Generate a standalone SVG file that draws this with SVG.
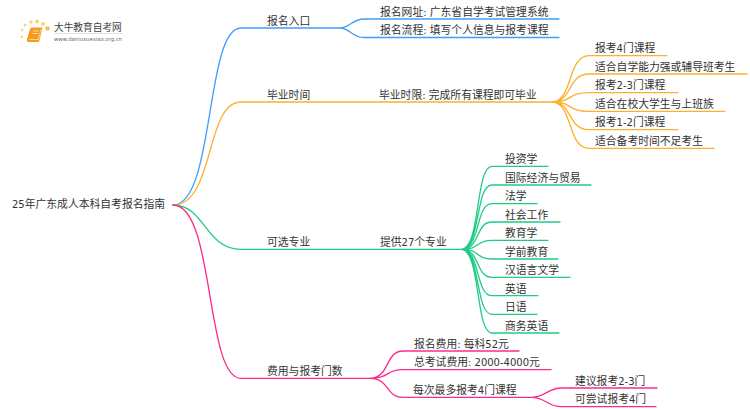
<svg xmlns="http://www.w3.org/2000/svg" width="750" height="410" viewBox="0 0 750 410">
<style>
text{font-family:"DejaVu Sans","Noto Sans CJK SC",sans-serif;font-size:10.8px;fill:#333}
tspan{font-size:10px}
.c{fill:none;stroke-width:1.3;stroke-linecap:round}
.b{stroke:#3f9dfc}.o{stroke:#fbb12e}.g{stroke:#1fcb86}.p{stroke:#fb2b8b}
</style>
<rect width="750" height="410" fill="#fff"/>
<g id="logo">
<g fill="#fbd27a"><circle cx="22" cy="37" r="1.2"/><circle cx="22" cy="30" r="1.3"/><circle cx="25" cy="25" r="1.5"/><circle cx="31" cy="22" r="1.7"/><circle cx="37" cy="21.500" r="2"/><circle cx="43" cy="24" r="2"/><circle cx="47.500" cy="28.500" r="2.300" fill="#fbc04f"/></g>
<path d="M30 29Q30.500 27.500 32 27.500H42.500L39.500 40.500Q39 42 37.500 42H28.500Q26.500 42 27 39.500Z" fill="#f59a1f"/>
<path d="M29 39.500H38.500L41 29" fill="none" stroke="#fde2ae" stroke-width=".8"/>
<path d="M33 31H38.500M32.500 33.500H38" stroke="#fde2ae" stroke-width=".9"/>
<text x="54" y="31" style="font-size:9.700px;fill:#444">大牛教育自考网</text>
<path d="M54 33.500H122" stroke="#ccc" stroke-width=".6"/>
<text x="54" y="41" style="font-size:5.300px;fill:#666">www.daniuxuexiao.org.cn</text>
</g>
<g id="connectors">
<path class="c b" d="M173 205C215 205 205 28 241 28H340C350 28 352 19 364 19H559M340 28C350 28 352 37.500 364 37.500H559"/>
<path class="c o" d="M173 205C215 205 205 102 241 102H552"/>
<path class="c o" d="M552 102C573 102 567 55.700 589 55.700H667M552 102C573 102 567 74 589 74H747M552 102C573 102 567 92.700 589 92.700H678M552 102C573 102 567 111.300 589 111.300H725M552 102C573 102 567 129.700 589 129.700H678M552 102C573 102 567 148.300 589 148.300H714"/>
<path class="c g" d="M173 205C205 205 205 249.300 241 249.300H461"/>
<path class="c g" d="M461 249.300C481 249.300 475 166.300 492 166.300H548M461 249.300C481 249.300 475 185 492 185H591M461 249.300C481 249.300 475 203.700 492 203.700H537M461 249.300C481 249.300 475 222 492 222H560M461 249.300C481 249.300 475 240.300 492 240.300H548M461 249.300C481 249.300 475 259 492 259H558M461 249.300C481 249.300 475 277.300 492 277.300H570M461 249.300C481 249.300 475 295.700 492 295.700H538M461 249.300C481 249.300 475 314.300 492 314.300H537M461 249.300C481 249.300 475 333 492 333H559"/>
<path class="c p" d="M173 205C215 205 205 378.300 241 378.300H370"/>
<path class="c p" d="M370 378.300C390 378.300 385 351 403 351H519M370 378.300C390 378.300 385 369.700 403 369.700H551M370 378.300C390 378.300 385 397.300 403 397.300H532C545 397.300 548 388 561 388H657M532 397.300C545 397.300 548 406.700 561 406.700H656"/>
</g>
<g id="root"><text x="12" y="208"><tspan>25</tspan>年广东成人本科自考报名指南</text></g>
<g id="n1"><text x="267" y="25">报名入口</text></g>
<g id="n1a"><text x="380" y="16">报名网址<tspan>: </tspan>广东省自学考试管理系统</text></g>
<g id="n1b"><text x="380" y="34">报名流程<tspan>: </tspan>填写个人信息与报考课程</text></g>
<g id="n2"><text x="267" y="99">毕业时间</text></g>
<g id="n2a"><text x="379" y="99">毕业时限<tspan>: </tspan>完成所有课程即可毕业</text></g>
<g id="n2a1"><text x="595" y="52">报考<tspan>4</tspan>门课程</text></g>
<g id="n2a2"><text x="595" y="71">适合自学能力强或辅导班考生</text></g>
<g id="n2a3"><text x="595" y="89">报考<tspan>2-3</tspan>门课程</text></g>
<g id="n2a4"><text x="595" y="108">适合在校大学生与上班族</text></g>
<g id="n2a5"><text x="595" y="126">报考<tspan>1-2</tspan>门课程</text></g>
<g id="n2a6"><text x="595" y="145">适合备考时间不足考生</text></g>
<g id="n3"><text x="267" y="246">可选专业</text></g>
<g id="n3a"><text x="380" y="246">提供<tspan>27</tspan>个专业</text></g>
<g id="n3a1"><text x="505" y="163">投资学</text></g>
<g id="n3a2"><text x="505" y="182">国际经济与贸易</text></g>
<g id="n3a3"><text x="505" y="200">法学</text></g>
<g id="n3a4"><text x="505" y="219">社会工作</text></g>
<g id="n3a5"><text x="505" y="237">教育学</text></g>
<g id="n3a6"><text x="505" y="256">学前教育</text></g>
<g id="n3a7"><text x="505" y="274">汉语言文学</text></g>
<g id="n3a8"><text x="505" y="293">英语</text></g>
<g id="n3a9"><text x="505" y="311">日语</text></g>
<g id="n3a10"><text x="505" y="330">商务英语</text></g>
<g id="n4"><text x="267" y="375">费用与报考门数</text></g>
<g id="n4a"><text x="414" y="348">报名费用<tspan>: </tspan>每科<tspan>52</tspan>元</text></g>
<g id="n4b"><text x="414" y="366">总考试费用<tspan>: 2000-4000</tspan>元</text></g>
<g id="n4c"><text x="413" y="394">每次最多报考<tspan>4</tspan>门课程</text></g>
<g id="n4c1"><text x="575" y="385">建议报考<tspan>2-3</tspan>门</text></g>
<g id="n4c2"><text x="575" y="403">可尝试报考<tspan>4</tspan>门</text></g>
</svg>
